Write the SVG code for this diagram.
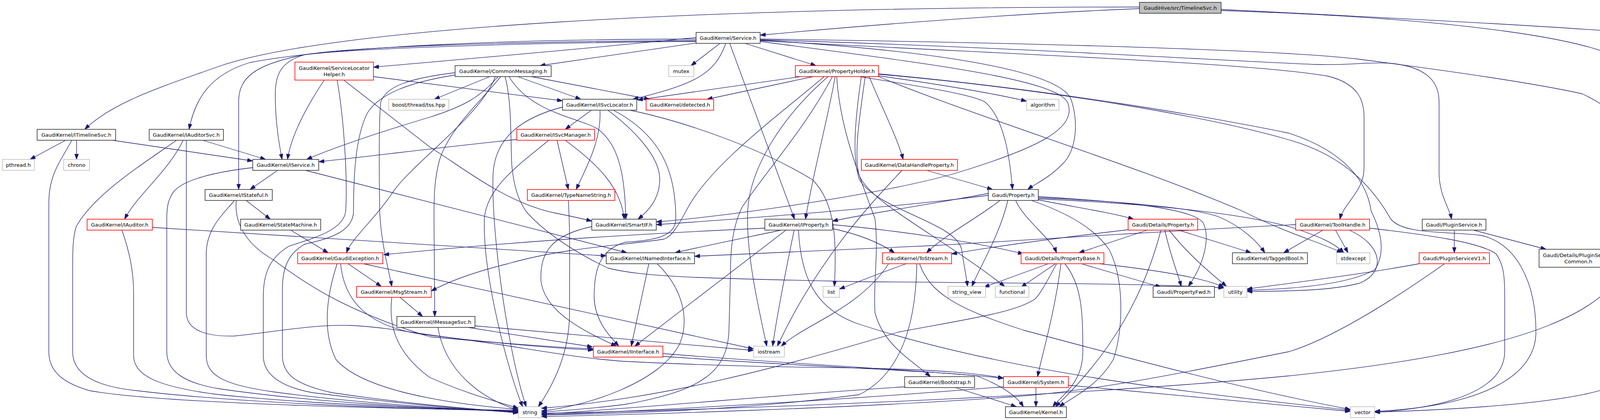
<svg xmlns="http://www.w3.org/2000/svg" width="4396" height="1075" viewBox="0 0 4396 1075">
<style>
.node rect{fill:#fff;stroke:#333;stroke-width:1.6}
.r rect{stroke:#ff0000}
.g rect{stroke:#bfbfbf}
.root rect{fill:#bfbfbf}
text{font-family:"DejaVu Sans","Liberation Sans",Arial,sans-serif;font-size:13.1px;text-anchor:middle;fill:#000}
.e path{fill:none;stroke:#191970;stroke-width:1.3;marker-end:url(#ah)}
</style>
<defs>
<marker id="ah" viewBox="0 0 14 10" refX="14" refY="5" markerWidth="14" markerHeight="10" markerUnits="userSpaceOnUse" orient="auto">
<path d="M0,0 L14,5 L0,10 z" fill="#191970" stroke="#191970"/>
</marker>
</defs>
<rect width="4396" height="1075" fill="#fff"/>
<g id="edges" class="e">
<path d="M2917,22 C2600,35 2250,62 1946,90"/>
<path d="M2917,18 C1800,18 850,70 560,170 C420,220 290,260 217,331"/>
<path d="M3126,24 C3600,48 4000,68 4216,87"/>
<path d="M3126,27 C3700,45 4150,100 4179,180 L4179,600 C4179,800 3900,900 3300,962 C2800,1010 2000,1045 1386,1058"/>
<path d="M1782,110 L1382,168"/>
<path d="M1782,100 C1300,100 850,120 640,160 C540,190 500,250 484,331"/>
<path d="M1868,111 L2034,561"/>
<path d="M1782,104 C1300,106 900,120 780,140 C710,160 703,200 705,260 C706,320 715,370 722,408"/>
<path d="M1782,106 C1300,110 900,125 780,140 C650,165 611,200 611,260 L611,485"/>
<path d="M1858,111 C1830,190 1780,215 1620,254"/>
<path d="M1907,111 L2089,168"/>
<path d="M1782,96 C1500,125 1200,150 956,172"/>
<path d="M1946,106 C2350,160 2700,200 2733,262 C2760,330 2650,380 2467,437 C2300,490 1900,550 1680,568"/>
<path d="M1946,104 C2600,140 3200,160 3400,195 C3480,215 3492,260 3492,300 L3492,430 C3492,490 3440,520 3430,561"/>
<path d="M1946,102 C2600,120 3200,160 3370,165 C3450,168 3500,158 3560,162 C3640,170 3684,200 3684,260 L3684,440 C3684,500 3710,530 3716,561"/>
<path d="M1946,103 C2400,130 2700,180 2740,250 C2760,300 2760,380 2720,420 C2680,460 2650,470 2631,485"/>
<path d="M1843,111 L1769,168"/>
<path d="M1946,100 C2700,110 3300,130 3475,151 C3700,180 3929,213 4050,240 C4180,300 4230,400 4230,480 L4230,900 C4230,1000 4000,1040 3519,1055"/>
<path d="M168,359 L77,408"/>
<path d="M196,359 L196,408"/>
<path d="M184,359 C150,420 125,450 125,520 L125,900 C125,950 160,980 230,1000 C400,1030 900,1045 1327,1050"/>
<path d="M288,359 L647,412"/>
<path d="M452,359 C350,430 240,500 195,580 C186,610 186,640 186,700 L186,900 C186,960 250,990 351,1000 C600,1030 1000,1046 1327,1052"/>
<path d="M469,359 C430,440 350,500 319,561"/>
<path d="M477,359 L477,800 C477,850 540,862 600,860 C700,850 800,830 900,833 C1000,838 1100,860 1200,870 C1350,885 1450,893 1519,896"/>
<path d="M519,359 L680,408"/>
<path d="M390,582 C800,610 1200,630 1552,655"/>
<path d="M312,589 C330,640 342,690 342,750 L342,910 C342,960 400,990 560,1010 C800,1035 1100,1045 1327,1053"/>
<path d="M711,436 L640,485"/>
<path d="M647,429 C550,440 470,460 445,490 C430,510 427,530 427,560 L427,900 C427,950 470,980 561,995 C800,1030 1100,1045 1327,1054"/>
<path d="M782,436 L1605,647"/>
<path d="M630,513 L692,561"/>
<path d="M605,513 C600,560 620,620 700,665 C800,740 900,800 1100,862 C1300,880 1450,890 1519,893"/>
<path d="M600,513 C580,540 528,580 528,650 L528,910 C528,960 570,985 700,1003 C900,1030 1100,1043 1327,1055"/>
<path d="M744,589 L840,647"/>
<path d="M956,196 C1100,215 1300,240 1440,258"/>
<path d="M830,205 C780,280 745,350 736,408"/>
<path d="M863,205 C880,300 890,450 885,540 C880,590 800,610 740,630 C690,660 674,700 674,760 L674,910 C674,960 720,990 800,1005 C1000,1030 1150,1045 1327,1056"/>
<path d="M880,205 L1100,376 C1200,440 1300,520 1420,545 C1470,555 1500,562 1515,566"/>
<path d="M1254,196 L1112,254"/>
<path d="M1325,196 L1487,254"/>
<path d="M1360,196 L1663,254"/>
<path d="M1275,196 C1230,250 1180,275 1100,300 C950,345 850,380 785,408"/>
<path d="M1165,186 C1050,200 990,220 975,260 C970,300 970,400 972,540 C975,620 995,690 1003,733"/>
<path d="M1268,196 C1230,300 1050,420 1000,500 C960,560 900,610 887,647"/>
<path d="M1282,196 C1230,260 1150,330 1125,410 C1112,460 1111,500 1111,560 L1113,810"/>
<path d="M1303,196 C1360,290 1480,300 1530,330 C1585,370 1600,450 1602,561"/>
<path d="M1165,192 C1050,210 970,240 940,290 C910,350 905,450 905,540 C905,590 850,610 780,625 C735,650 723,690 723,740 L723,910 C723,960 760,985 850,1005 C1050,1035 1200,1045 1327,1057"/>
<path d="M1293,196 C1310,260 1307,350 1310,420 C1315,480 1330,520 1350,545 C1400,600 1480,650 1556,686 C1650,710 1800,712 2200,721 C2700,725 3000,727 3133,737"/>
<path d="M1514,282 L1447,331"/>
<path d="M1536,282 C1540,360 1500,430 1475,485"/>
<path d="M1556,282 C1620,330 1690,400 1689,460 C1688,510 1660,540 1633,561"/>
<path d="M1570,282 C1700,350 1730,450 1730,560 C1730,600 1690,615 1600,620 C1530,640 1521,700 1521,760 C1522,820 1560,860 1584,886"/>
<path d="M1612,282 C1750,310 1950,380 2080,460 C2140,520 2142,620 2136,733"/>
<path d="M1440,274 C1340,300 1265,350 1262,450 C1258,600 1300,900 1347,1041"/>
<path d="M1323,357 C1100,380 950,400 816,414"/>
<path d="M1426,359 L1455,485"/>
<path d="M1447,359 C1530,420 1590,480 1598,561"/>
<path d="M1405,359 C1330,420 1245,480 1240,560 C1235,700 1300,950 1338,1041"/>
<path d="M1455,513 C1460,600 1458,700 1458,800 C1458,900 1420,980 1378,1041"/>
<path d="M2372,436 L2541,485"/>
<path d="M2309,436 C2250,500 2100,650 1990,886"/>
<path d="M2050,196 L1632,256"/>
<path d="M2082,196 L1810,254"/>
<path d="M2249,194 C2400,215 2550,240 2628,259"/>
<path d="M2225,196 C2260,280 2300,360 2312,408"/>
<path d="M2200,196 C2350,220 2480,240 2520,260 C2570,300 2585,400 2592,485"/>
<path d="M2249,190 C2700,230 3100,300 3300,358 C3450,400 3520,490 3560,560 C3590,600 3700,592 3789,602 C3880,620 3932,720 3932,850 C3932,960 3800,1040 3519,1053"/>
<path d="M2110,196 C2000,290 1820,420 1759,535 C1735,580 1720,605 1700,612 C1600,628 1450,632 1300,675 C1200,700 1140,725 1104,745"/>
<path d="M2131,196 C2060,330 1960,440 1900,530 C1875,580 1870,640 1870,700 L1866,850 C1860,950 1800,1000 1600,1035 C1500,1048 1420,1052 1386,1055"/>
<path d="M2142,196 C2150,330 2200,450 2240,560 C2250,650 2235,720 2240,800 C2260,880 2330,920 2382,964"/>
<path d="M2138,196 C2120,300 2080,450 2062,561"/>
<path d="M2120,196 C2000,300 1920,430 1914,540 C1910,650 1940,780 1963,886"/>
<path d="M2249,196 C2500,300 2900,420 3180,540 C3300,600 3380,620 3436,647"/>
<path d="M2249,189 C2700,230 3100,300 3300,341 C3450,390 3500,470 3510,540 C3540,600 3545,650 3520,690 C3450,730 3300,740 3192,743"/>
<path d="M2215,196 C2200,300 2185,400 2200,450 C2230,520 2400,600 2572,733"/>
<path d="M2205,196 C2190,300 2180,400 2200,460 C2250,540 2450,570 2462,640 C2468,680 2474,710 2477,733"/>
<path d="M1958,584 C1600,600 1300,620 982,652"/>
<path d="M2000,589 C1900,610 1800,630 1728,647"/>
<path d="M2012,589 L1625,886"/>
<path d="M2033,589 C2010,700 1990,800 1978,886"/>
<path d="M2044,589 C2050,700 2080,790 2200,830 C2600,960 3100,1010 3457,1050"/>
<path d="M2131,585 C2200,600 2250,620 2290,647"/>
<path d="M2131,575 C2300,590 2500,620 2620,650"/>
<path d="M1515,580 C1420,600 1380,640 1385,720 C1395,800 1500,850 1578,886"/>
<path d="M2888,588 C2700,610 2550,630 2436,650"/>
<path d="M2937,589 L2762,647"/>
<path d="M2982,589 C2995,650 3015,700 3024,733"/>
<path d="M2993,589 C3040,650 3100,700 3140,733"/>
<path d="M3017,589 L3203,647"/>
<path d="M2972,589 C2930,750 2850,900 2702,1041"/>
<path d="M2275,675 C2200,790 2060,830 2000,886"/>
<path d="M2320,675 C2250,700 2200,720 2149,740"/>
<path d="M2347,675 C2345,800 2320,950 2200,1010 C1900,1050 1600,1058 1386,1062"/>
<path d="M2354,675 C2380,750 2450,790 2620,845 C2900,920 3200,1000 3457,1048"/>
<path d="M2684,675 L2519,735"/>
<path d="M2702,675 L2614,735"/>
<path d="M2726,675 C2770,730 2772,800 2772,900 C2772,980 2720,1010 2695,1041"/>
<path d="M2716,675 C2700,800 2670,900 2656,964"/>
<path d="M2705,675 C2680,720 2665,750 2650,765 C2600,800 2480,816 2300,850 C2000,940 1700,1020 1386,1045"/>
<path d="M2768,675 L2972,735"/>
<path d="M2814,675 C2950,690 3080,710 3133,735"/>
<path d="M2656,511 C2750,530 2850,545 2902,561"/>
<path d="M2600,513 C2620,560 2690,610 2705,647"/>
<path d="M2560,513 C2500,560 2420,600 2372,647"/>
<path d="M2658,503 C2850,515 3050,530 3080,570 C3100,610 3080,680 3042,733"/>
<path d="M2658,506 C2850,515 3050,530 3120,555 C3180,580 3220,620 3238,647"/>
<path d="M2658,509 C2900,520 3150,540 3300,580 C3380,605 3420,625 3440,647"/>
<path d="M2530,495 C2400,520 2200,550 2131,566"/>
<path d="M2530,500 C2300,530 1900,560 1680,575"/>
<path d="M2580,513 C2560,600 2510,680 2488,733"/>
<path d="M2640,513 C2720,540 2800,580 2840,640 C2880,720 2875,850 2850,920 C2810,990 2740,1020 2712,1041"/>
<path d="M3317,575 C3000,590 2700,610 2400,628 C2100,640 1900,650 1778,656"/>
<path d="M3387,589 L3286,647"/>
<path d="M3419,589 L3451,647"/>
<path d="M3454,589 C3545,630 3545,700 3480,725 C3400,745 3300,745 3192,746"/>
<path d="M3506,584 C3650,600 3790,620 3830,650 C3852,680 3852,720 3852,760 L3852,900 C3852,1000 3700,1045 3519,1055"/>
<path d="M3723,589 L3723,647"/>
<path d="M3772,589 L3958,638"/>
<path d="M3633,675 C3500,700 3300,725 3192,740"/>
<path d="M3698,675 C3550,780 3400,870 3300,900 C3000,960 2800,1000 2600,1015 C2200,1045 1600,1062 1386,1066"/>
<path d="M891,675 L976,733"/>
<path d="M863,675 C835,760 825,850 860,920 C920,990 1100,1030 1327,1048"/>
<path d="M930,675 L1929,893"/>
<path d="M872,675 C880,760 930,840 1100,858 C1300,880 1450,915 1600,925 C1900,940 2100,940 2200,942 C2400,946 2500,955 2569,968"/>
<path d="M1198,838 L1517,888"/>
<path d="M1216,834 L1929,897"/>
<path d="M1121,838 C1140,950 1230,1020 1327,1050"/>
<path d="M1024,761 L1082,810"/>
<path d="M1003,761 C995,830 1010,900 1100,966 C1200,1010 1280,1030 1327,1045"/>
<path d="M1661,675 L1616,886"/>
<path d="M1682,675 C1750,740 1765,820 1740,880 C1690,980 1500,1040 1386,1052"/>
<path d="M1697,905 C2000,930 2400,950 2569,968"/>
<path d="M1697,912 C2000,935 2400,950 2500,962 C2560,985 2600,1010 2620,1041"/>
<path d="M2316,990 C2000,1010 1700,1040 1386,1060"/>
<path d="M2446,992 L2602,1041"/>
<path d="M2652,992 L2652,1041"/>
<path d="M2569,990 C2200,1020 1800,1045 1386,1062"/>
<path d="M2735,986 C3000,1010 3300,1040 3457,1053"/>
</g>
<g id="node-root" class="node root"><rect x="2917" y="6" width="209" height="28"/><text x="3021.5" y="25">GaudiHive/src/TimelineSvc.h</text></g>
<g id="node-service" class="node"><rect x="1782" y="83" width="164" height="28"/><text x="1864" y="102">GaudiKernel/Service.h</text></g>
<g id="node-tbb" class="node g"><rect x="4216" y="83" width="175" height="28"/><text x="4303.5" y="102">tbb/concurrent_vector.h</text></g>
<g id="node-commonmessaging" class="node"><rect x="1165" y="168" width="246" height="28"/><text x="1288" y="187">GaudiKernel/CommonMessaging.h</text></g>
<g id="node-mutex" class="node g"><rect x="1712" y="168" width="64" height="28"/><text x="1744" y="187">mutex</text></g>
<g id="node-propertyholder" class="node r"><rect x="2036" y="168" width="213" height="28"/><text x="2142.5" y="187">GaudiKernel/PropertyHolder.h</text></g>
<g id="node-servicelocatorhelper" class="node r"><rect x="755" y="159" width="201" height="46"/><text x="855.5" y="178.5">GaudiKernel/ServiceLocator</text><text x="855.5" y="195">Helper.h</text></g>
<g id="node-tss" class="node g"><rect x="995" y="254" width="154" height="28"/><text x="1072" y="273">boost/thread/tss.hpp</text></g>
<g id="node-isvclocator" class="node"><rect x="1440" y="254" width="190" height="28"/><text x="1535" y="273">GaudiKernel/ISvcLocator.h</text></g>
<g id="node-detected" class="node r"><rect x="1654" y="254" width="173" height="28"/><text x="1740.5" y="273">GaudiKernel/detected.h</text></g>
<g id="node-algorithm" class="node g"><rect x="2628" y="254" width="83" height="28"/><text x="2669.5" y="273">algorithm</text></g>
<g id="node-itimelinesvc" class="node"><rect x="95" y="331" width="201" height="28"/><text x="195.5" y="350">GaudiKernel/ITimelineSvc.h</text></g>
<g id="node-iauditorsvc" class="node"><rect x="382" y="331" width="190" height="28"/><text x="477" y="350">GaudiKernel/IAuditorSvc.h</text></g>
<g id="node-isvcmanager" class="node r"><rect x="1323" y="331" width="199" height="28"/><text x="1422.5" y="350">GaudiKernel/ISvcManager.h</text></g>
<g id="node-pthread" class="node g"><rect x="6" y="408" width="82" height="28"/><text x="47" y="427">pthread.h</text></g>
<g id="node-chrono" class="node g"><rect x="163" y="408" width="66" height="28"/><text x="196" y="427">chrono</text></g>
<g id="node-iservice" class="node"><rect x="647" y="408" width="169" height="28"/><text x="731.5" y="427">GaudiKernel/IService.h</text></g>
<g id="node-datahandleproperty" class="node r"><rect x="2205" y="408" width="246" height="28"/><text x="2328" y="427">GaudiKernel/DataHandleProperty.h</text></g>
<g id="node-istateful" class="node"><rect x="525" y="485" width="172" height="28"/><text x="611" y="504">GaudiKernel/IStateful.h</text></g>
<g id="node-typenamestring" class="node r"><rect x="1350" y="485" width="224" height="28"/><text x="1462" y="504">GaudiKernel/TypeNameString.h</text></g>
<g id="node-property" class="node"><rect x="2530" y="485" width="128" height="28"/><text x="2594" y="504">Gaudi/Property.h</text></g>
<g id="node-iauditor" class="node r"><rect x="223" y="561" width="167" height="28"/><text x="306.5" y="580">GaudiKernel/IAuditor.h</text></g>
<g id="node-statemachine" class="node"><rect x="616" y="561" width="205" height="28"/><text x="718.5" y="580">GaudiKernel/StateMachine.h</text></g>
<g id="node-smartif" class="node"><rect x="1515" y="561" width="165" height="28"/><text x="1597.5" y="580">GaudiKernel/SmartIF.h</text></g>
<g id="node-iproperty" class="node"><rect x="1958" y="561" width="173" height="28"/><text x="2044.5" y="580">GaudiKernel/IProperty.h</text></g>
<g id="node-detailsproperty" class="node r"><rect x="2888" y="561" width="178" height="28"/><text x="2977" y="580">Gaudi/Details/Property.h</text></g>
<g id="node-toolhandle" class="node r"><rect x="3317" y="561" width="189" height="28"/><text x="3411.5" y="580">GaudiKernel/ToolHandle.h</text></g>
<g id="node-pluginservice" class="node"><rect x="3641" y="561" width="163" height="28"/><text x="3722.5" y="580">Gaudi/PluginService.h</text></g>
<g id="node-gaudiexception" class="node r"><rect x="762" y="647" width="218" height="28"/><text x="871" y="666">GaudiKernel/GaudiException.h</text></g>
<g id="node-inamedinterface" class="node"><rect x="1552" y="647" width="226" height="28"/><text x="1665" y="666">GaudiKernel/INamedInterface.h</text></g>
<g id="node-tostream" class="node r"><rect x="2259" y="647" width="177" height="28"/><text x="2347.5" y="666">GaudiKernel/ToStream.h</text></g>
<g id="node-propertybase" class="node r"><rect x="2614" y="647" width="212" height="28"/><text x="2720" y="666">Gaudi/Details/PropertyBase.h</text></g>
<g id="node-taggedbool" class="node"><rect x="3155" y="647" width="192" height="28"/><text x="3251" y="666">GaudiKernel/TaggedBool.h</text></g>
<g id="node-stdexcept" class="node g"><rect x="3422" y="647" width="85" height="28"/><text x="3464.5" y="666">stdexcept</text></g>
<g id="node-pluginservicev1" class="node r"><rect x="3633" y="647" width="180" height="28"/><text x="3723" y="666">Gaudi/PluginServiceV1.h</text></g>
<g id="node-pluginservicecommon" class="node"><rect x="3940" y="638" width="201" height="46"/><text x="4040.5" y="657.5">Gaudi/Details/PluginService</text><text x="4040.5" y="674">Common.h</text></g>
<g id="node-msgstream" class="node r"><rect x="913" y="733" width="191" height="28"/><text x="1008.5" y="752">GaudiKernel/MsgStream.h</text></g>
<g id="node-list" class="node g"><rect x="2107" y="733" width="42" height="28"/><text x="2128" y="752">list</text></g>
<g id="node-string_view" class="node g"><rect x="2427" y="733" width="96" height="28"/><text x="2475" y="752">string_view</text></g>
<g id="node-functional" class="node g"><rect x="2548" y="733" width="86" height="28"/><text x="2591" y="752">functional</text></g>
<g id="node-propertyfwd" class="node"><rect x="2952" y="733" width="157" height="28"/><text x="3030.5" y="752">Gaudi/PropertyFwd.h</text></g>
<g id="node-utility" class="node g"><rect x="3133" y="733" width="59" height="28"/><text x="3162.5" y="752">utility</text></g>
<g id="node-imessagesvc" class="node"><rect x="1016" y="810" width="200" height="28"/><text x="1116" y="829">GaudiKernel/IMessageSvc.h</text></g>
<g id="node-iinterface" class="node r"><rect x="1519" y="886" width="178" height="28"/><text x="1608" y="905">GaudiKernel/IInterface.h</text></g>
<g id="node-iostream" class="node g"><rect x="1929" y="886" width="79" height="28"/><text x="1968.5" y="905">iostream</text></g>
<g id="node-bootstrap" class="node"><rect x="2316" y="964" width="179" height="28"/><text x="2405.5" y="983">GaudiKernel/Bootstrap.h</text></g>
<g id="node-system" class="node r"><rect x="2569" y="964" width="166" height="28"/><text x="2652" y="983">GaudiKernel/System.h</text></g>
<g id="node-string" class="node g"><rect x="1327" y="1041" width="59" height="28"/><text x="1356.5" y="1060">string</text></g>
<g id="node-kernel" class="node"><rect x="2574" y="1041" width="156" height="28"/><text x="2652" y="1060">GaudiKernel/Kernel.h</text></g>
<g id="node-vector" class="node g"><rect x="3457" y="1041" width="62" height="28"/><text x="3488" y="1060">vector</text></g>
</svg>
